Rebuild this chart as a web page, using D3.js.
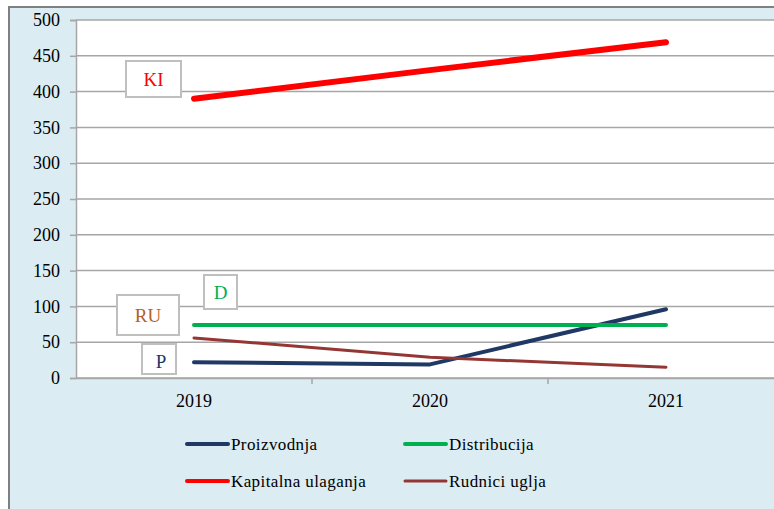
<!DOCTYPE html>
<html>
<head>
<meta charset="utf-8">
<script src="https://cdn.jsdelivr.net/npm/d3@7"></script>
<style>
  body { margin: 0; background: #fff; }
  svg { display: block; font-family: "Liberation Serif", "Times New Roman", serif; }
</style>
</head>
<body>
<svg id="chart" width="774" height="509"></svg>
<script>
// data
var years = ["2019", "2020", "2021"];
var proizvodnja = [22, 19, 96];
var distribucija = [74, 74, 74];
var kapitalna = [390, 430, 469];
var rudnici = [56, 29, 15];
var yTicks = [0, 50, 100, 150, 200, 250, 300, 350, 400, 450, 500];

var series = [
  {name: "Proizvodnja", short: "P", values: proizvodnja, color: "#1f3864", text: "#1f3864", width: 4},
  {name: "Distribucija", short: "D", values: distribucija, color: "#00b050", text: "#00b050", width: 4},
  {name: "Kapitalna ulaganja", short: "KI", values: kapitalna, color: "#ff0000", text: "#ff0000", width: 6},
  {name: "Rudnici uglja", short: "RU", values: rudnici, color: "#943634", text: "#b4602a", width: 3}
];

var svg = d3.select("#chart");

// outer frame
svg.append("rect")
  .attr("x", 9).attr("y", 7)
  .attr("width", 800).attr("height", 520)
  .attr("fill", "#dbecf2")
  .attr("stroke", "#808080")
  .attr("stroke-width", 2);

var plotLeft = 76, plotTop = 20, plotBottom = 378;
var xScale = d3.scaleBand().domain(years).range([plotLeft, plotLeft + 3 * 236]);
var yScale = d3.scaleLinear().domain([0, 500]).range([plotBottom, plotTop]);

// plot area
svg.append("rect")
  .attr("x", plotLeft).attr("y", plotTop)
  .attr("width", 3 * 236).attr("height", plotBottom - plotTop)
  .attr("fill", "#ffffff");

// grid
svg.append("g").selectAll("line")
  .data(yTicks)
  .enter()
  .append("line")
  .attr("x1", plotLeft).attr("x2", 774)
  .attr("y1", d => yScale(d)).attr("y2", d => yScale(d))
  .attr("stroke", "#a6a6a6")
  .attr("stroke-width", 1.5);

// y axis
var yAxis = d3.axisLeft(yScale).tickValues(yTicks).tickSize(6).tickPadding(10);
var yg = svg.append("g")
  .attr("transform", "translate(" + plotLeft + ",0)")
  .call(yAxis);
yg.select(".domain").attr("stroke", "#a6a6a6").attr("stroke-width", 1.5);
yg.selectAll(".tick line").attr("stroke", "#a6a6a6").attr("stroke-width", 1.5);
yg.selectAll("text")
  .attr("font-size", 18)
  .attr("fill", "#000")
  .attr("font-family", "Liberation Serif, serif");

// x axis
var xAxis = d3.axisBottom(xScale).tickSize(0).tickPadding(16);
var xg = svg.append("g")
  .attr("transform", "translate(0," + plotBottom + ")")
  .call(xAxis);
xg.select(".domain").attr("stroke", "#a6a6a6").attr("stroke-width", 1.5);
xg.selectAll("text")
  .attr("font-size", 18)
  .attr("fill", "#000")
  .attr("font-family", "Liberation Serif, serif");
// tick marks between categories
xg.selectAll(".sep")
  .data(years.slice(1))
  .enter()
  .append("line")
  .attr("x1", d => xScale(d)).attr("x2", d => xScale(d))
  .attr("y1", 0).attr("y2", 6)
  .attr("stroke", "#a6a6a6")
  .attr("stroke-width", 1.5);

// lines
var line = d3.line()
  .x((d, i) => xScale(years[i]) + xScale.bandwidth() / 2)
  .y(d => yScale(d));

svg.append("g").selectAll("path")
  .data(series)
  .enter()
  .append("path")
  .attr("d", d => line(d.values))
  .attr("fill", "none")
  .attr("stroke", d => d.color)
  .attr("stroke-width", d => d.width)
  .attr("stroke-linecap", "round")
  .attr("stroke-linejoin", "round");

// label boxes
var boxes = [
  {s: "KI", x: 126, y: 61, w: 55, h: 36},
  {s: "RU", x: 117, y: 295, w: 62, h: 40},
  {s: "D", x: 204, y: 275, w: 33, h: 34},
  {s: "P", x: 142, y: 344, w: 34, h: 30}
];
boxes.forEach(function(b) {
  var s = series.find(d => d.short == b.s);
  svg.append("rect")
    .attr("x", b.x).attr("y", b.y)
    .attr("width", b.w).attr("height", b.h)
    .attr("fill", "#fff")
    .attr("stroke", "#bfbfbf")
    .attr("stroke-width", 2);
  svg.append("text")
    .attr("x", b.x + b.w / 2 + (b.s == "P" ? 2 : 0))
    .attr("y", b.y + b.h / 2 + (b.s == "P" ? 9 : 7))
    .attr("text-anchor", "middle")
    .attr("font-size", 19)
    .attr("fill", s.text)
    .text(b.s);
});

// legend
var legPos = [[187, 444], [405, 444], [187, 481], [405, 481]];
var leg = svg.append("g").selectAll("g")
  .data(series)
  .enter()
  .append("g")
  .attr("transform", (d, i) => "translate(" + legPos[i][0] + "," + legPos[i][1] + ")");
leg.append("line")
  .attr("x1", 0).attr("x2", 41)
  .attr("stroke", d => d.color)
  .attr("stroke-width", d => Math.min(d.width, 4))
  .attr("stroke-linecap", "round");
leg.append("text")
  .attr("x", 44)
  .attr("y", 6)
  .attr("font-size", 17)
  .attr("letter-spacing", 0.4)
  .attr("fill", "#000")
  .text(d => d.name);
</script>
</body>
</html>
